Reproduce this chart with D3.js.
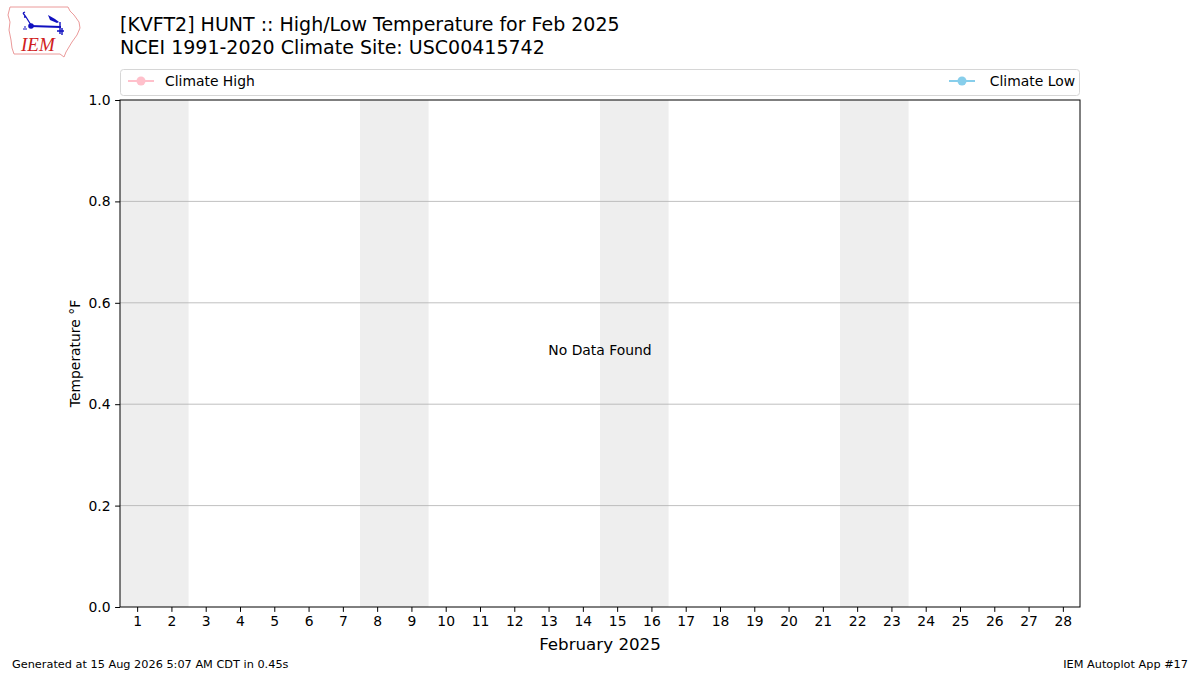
<!DOCTYPE html>
<html><head><meta charset="utf-8">
<script src="https://cdn.jsdelivr.net/npm/d3@7"></script>
<style>
html,body{margin:0;padding:0;background:#fff;}
svg{display:block;font-family:"DejaVu Sans",sans-serif;}
</style></head>
<body>
<script>
const titleLines = ["[KVFT2] HUNT :: High/Low Temperature for Feb 2025", "NCEI 1991-2020 Climate Site: USC00415742"];
const days = d3.range(1, 29);
const weekendStarts = [1, 8, 15, 22];
const yTicks = [0.0, 0.2, 0.4, 0.6, 0.8, 1.0];
const seriesNames = ["Climate High", "Climate Low"];
const seriesColors = ["#ffc0cb", "#87ceeb"];
const climateHigh = [];
const climateLow = [];
const xLabel = "February 2025";
const yLabel = "Temperature °F";
const footerLeft = "Generated at 15 Aug 2026 5:07 AM CDT in 0.45s";
const footerRight = "IEM Autoplot App #17";

const W = 1200, H = 675;
const m = {l:120, r:1080, t:100, b:607};
const svg = d3.select("body").append("svg").attr("width", W).attr("height", H);

const x = d3.scaleLinear().domain([0.5, 28.5]).range([m.l, m.r]);
const y = d3.scaleLinear().domain([0, 1]).range([m.b, m.t]);

// weekend shading
svg.append("g").selectAll("rect").data(weekendStarts).join("rect")
  .attr("x", d => x(d - 0.5)).attr("width", d => x(d + 1.5) - x(d - 0.5))
  .attr("y", m.t).attr("height", m.b - m.t).attr("fill", "#eeeeee");

// grid
svg.append("g").selectAll("line").data(yTicks.filter(v => v > 0 && v < 1)).join("line")
  .attr("x1", m.l).attr("x2", m.r).attr("y1", d => y(d)).attr("y2", d => y(d))
  .attr("stroke", "#b0b0b0").attr("stroke-width", 0.8);

// axes
const xAxis = svg.append("g").attr("transform", `translate(0,${m.b})`)
  .call(d3.axisBottom(x).tickValues(days).tickSize(4.9).tickPadding(4.5).tickFormat(d3.format("d")));
const yAxis = svg.append("g").attr("transform", `translate(${m.l},0)`)
  .call(d3.axisLeft(y).tickValues(yTicks).tickSize(4.9).tickPadding(4.5).tickFormat(d3.format(".1f")));
[xAxis, yAxis].forEach(a => {
  a.select(".domain").remove();
  a.selectAll("text").attr("font-size", 13.9).attr("fill", "#000").attr("font-family", "DejaVu Sans");
  a.selectAll("line").attr("stroke", "#000").attr("stroke-width", 1);
});

// frame
svg.append("rect").attr("x", m.l).attr("y", m.t).attr("width", m.r - m.l).attr("height", m.b - m.t)
  .attr("fill", "none").attr("stroke", "#000").attr("stroke-width", 1);

// no data text
svg.append("text").attr("x", x(14.5)).attr("y", y(0.5) - 4).attr("text-anchor", "middle")
  .attr("dominant-baseline", "central").attr("font-size", 13.9).text("No Data Found");

// axis labels
svg.append("text").attr("x", x(14.5)).attr("y", 650).attr("text-anchor", "middle")
  .attr("font-size", 16.7).text(xLabel);
svg.append("text").attr("transform", `translate(80,${(m.t + m.b) / 2}) rotate(-90)`)
  .attr("text-anchor", "middle").attr("font-size", 13.9).text(yLabel);

// titles
svg.append("g").selectAll("text").data(titleLines).join("text")
  .attr("x", 120).attr("y", (d, i) => 31 + i * 23).attr("font-size", 19).text(d => d);

// legend
const lg = svg.append("g");
lg.append("rect").attr("x", 120.5).attr("y", 69.5).attr("width", 959).attr("height", 26).attr("rx", 3)
  .attr("fill", "#fff").attr("stroke", "#d6d6d6");
const legendItems = [
  {name: seriesNames[0], color: seriesColors[0], lx: 128, tx: 165, anchor: "start"},
  {name: seriesNames[1], color: seriesColors[1], lx: 949, tx: 1075, anchor: "end"}
];
legendItems.forEach(it => {
  lg.append("line").attr("x1", it.lx).attr("x2", it.lx + 26).attr("y1", 81).attr("y2", 81)
    .attr("stroke", it.color).attr("stroke-width", 2);
  lg.append("circle").attr("cx", it.lx + 13).attr("cy", 81).attr("r", 4.5).attr("fill", it.color);
  lg.append("text").attr("x", it.tx).attr("y", 81).attr("dominant-baseline", "central")
    .attr("text-anchor", it.anchor).attr("font-size", 13.9).text(it.name);
});

// footer
svg.append("text").attr("x", 12).attr("y", 668).attr("font-size", 11.3).text(footerLeft);
svg.append("text").attr("x", 1188).attr("y", 668).attr("text-anchor", "end").attr("font-size", 11.3).text(footerRight);

// logo
const logo = svg.append("g");
logo.append("path")
  .attr("d", "M10,7 L68,7 L70,11 L74,15 L79,22 L80,28 L77,35 L72,42 L69,47 L66,52 L64,57 L60,54 L14,54 L12,48 L11,40 L9,30 L10,22 L8,15 Z")
  .attr("fill", "#fff").attr("stroke", "#eb9a9a").attr("stroke-width", 1);
logo.append("line").attr("x1", 30).attr("x2", 61).attr("y1", 26).attr("y2", 27).attr("stroke", "#1010c0").attr("stroke-width", 1.8);
logo.append("circle").attr("cx", 31).attr("cy", 26).attr("r", 2.8).attr("fill", "#1010c0");
logo.append("path").attr("d", "M31,25 L26,17 L23,13 M26,17 L24,17 M23,13 L25,12").attr("stroke", "#1010c0").attr("stroke-width", 1.3).attr("fill", "none");
logo.append("path").attr("d", "M48,15 L55,19 L59,22 L57,23 L50,20 Z").attr("fill", "#1010c0");
logo.append("path").attr("d", "M60,22 L60,34 M57,31 L64,31 M62,28 L62,35").attr("stroke", "#1010c0").attr("stroke-width", 1.4).attr("fill", "none");
logo.append("path").attr("d", "M24,27 l2,0 M23,29 l2,0 M25,29 l2,0").attr("stroke", "#1010c0").attr("stroke-width", 1.2);
logo.append("text").attr("x", 21).attr("y", 51).attr("font-family", "Liberation Serif, serif").attr("font-style", "italic")
  .attr("font-size", 19).attr("fill", "#d02020").text("IEM");
</script>
</body></html>
